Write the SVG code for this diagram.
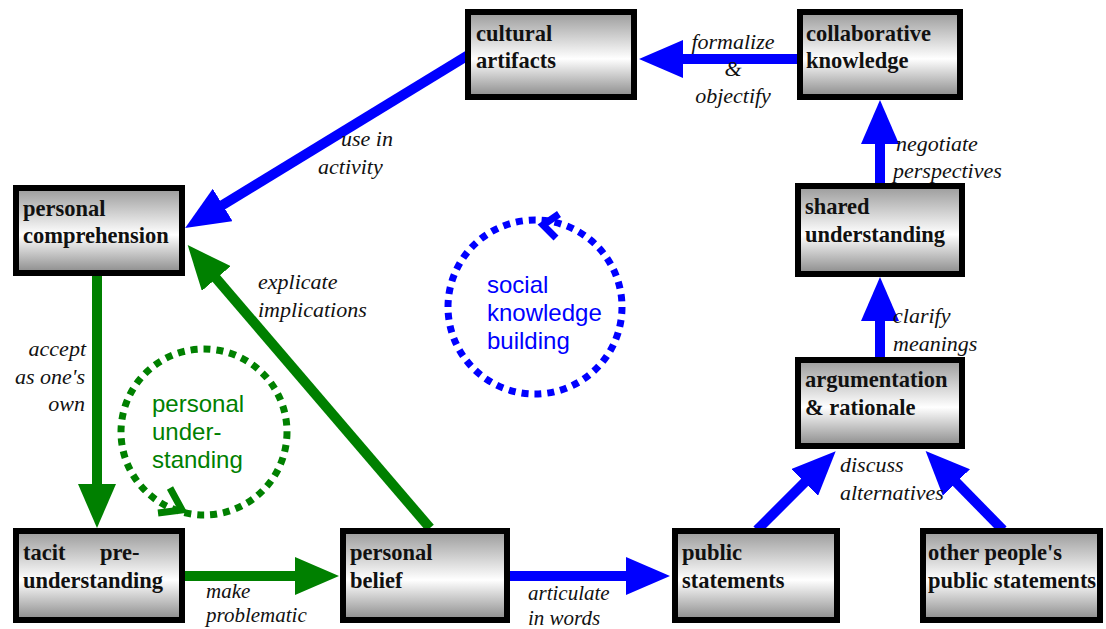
<svg xmlns="http://www.w3.org/2000/svg" width="1106" height="629" viewBox="0 0 1106 629">
<defs>
<linearGradient id="boxg" x1="0" y1="0" x2="0" y2="1">
<stop offset="0" stop-color="#9a9a9a"/>
<stop offset="0.55" stop-color="#ffffff"/>
<stop offset="1" stop-color="#8a8a8a"/>
</linearGradient>
<marker id="hb" viewBox="0 0 44 38" refX="2" refY="19" markerWidth="44" markerHeight="38" markerUnits="userSpaceOnUse" orient="auto">
<path d="M0,0 L44,19 L0,38 z" fill="#0000ff"/>
</marker>
<marker id="hg" viewBox="0 0 44 38" refX="2" refY="19" markerWidth="44" markerHeight="38" markerUnits="userSpaceOnUse" orient="auto">
<path d="M0,0 L44,19 L0,38 z" fill="#008000"/>
</marker>
</defs>
<style>
.box{fill:url(#boxg);stroke:#000;stroke-width:6}
.bt{font-family:"Liberation Serif",serif;font-weight:bold;font-size:22.5px;fill:#111}
.it{font-family:"Liberation Serif",serif;font-style:italic;font-size:22px;fill:#111}
.its{font-family:"Liberation Serif",serif;font-style:italic;font-size:21px;fill:#111}
.b{stroke:#0000ff;stroke-width:10;fill:none}
.g{stroke:#008000;stroke-width:10;fill:none}
.ct{font-family:"Liberation Sans",Arial,sans-serif;font-size:24px}
</style>
<rect width="1106" height="629" fill="#fff"/>

<g id="connectors">
<line class="b" x1="797" y1="59" x2="681" y2="59" marker-end="url(#hb)"/>
<line class="b" x1="470" y1="54" x2="221" y2="206" marker-end="url(#hb)"/>
<line class="b" x1="880" y1="183" x2="880" y2="142" marker-end="url(#hb)"/>
<line class="b" x1="880" y1="357" x2="880" y2="319" marker-end="url(#hb)"/>
<line class="b" x1="757" y1="530" x2="806" y2="481" marker-end="url(#hb)"/>
<line class="b" x1="1003" y1="530" x2="955" y2="481" marker-end="url(#hb)"/>
<line class="b" x1="510" y1="576" x2="628" y2="576" marker-end="url(#hb)"/>
<line class="g" x1="97" y1="276" x2="97" y2="486" marker-end="url(#hg)"/>
<line class="g" x1="185" y1="576" x2="297" y2="576" marker-end="url(#hg)"/>
<line class="g" x1="430" y1="528" x2="215" y2="277" marker-end="url(#hg)"/>
</g>

<g id="cycle-social">
<circle cx="535" cy="307" r="87" fill="none" stroke="#0000ff" stroke-width="7" stroke-dasharray="7 6"/>
<polyline points="559,214 543,225 556,238" fill="none" stroke="#0000ff" stroke-width="7"/>
<text class="ct" fill="#0000ff" x="487" y="293">social</text>
<text class="ct" fill="#0000ff" x="487" y="321">knowledge</text>
<text class="ct" fill="#0000ff" x="487" y="349">building</text>
</g>

<g id="cycle-personal">
<circle cx="204" cy="432" r="83" fill="none" stroke="#008000" stroke-width="7" stroke-dasharray="7 6"/>
<polyline points="170,488 182,510 158,513" fill="none" stroke="#008000" stroke-width="7"/>
<text class="ct" fill="#008000" x="152" y="412">personal</text>
<text class="ct" fill="#008000" x="152" y="440">under-</text>
<text class="ct" fill="#008000" x="152" y="468">standing</text>
</g>

<g id="cultural-artifacts">
<rect class="box" x="468" y="12" width="166" height="85"/>
<text class="bt" x="476" y="41">cultural</text>
<text class="bt" x="476" y="68">artifacts</text>
</g>
<g id="collaborative-knowledge">
<rect class="box" x="800" y="12" width="160" height="85"/>
<text class="bt" x="806" y="41">collaborative</text>
<text class="bt" x="806" y="68">knowledge</text>
</g>
<g id="personal-comprehension">
<rect class="box" x="16" y="188" width="166" height="85"/>
<text class="bt" x="23" y="216">personal</text>
<text class="bt" x="23" y="243">comprehension</text>
</g>
<g id="shared-understanding">
<rect class="box" x="798" y="186" width="164" height="88"/>
<text class="bt" x="805" y="214">shared</text>
<text class="bt" x="805" y="242">understanding</text>
</g>
<g id="argumentation">
<rect class="box" x="798" y="360" width="164" height="86"/>
<text class="bt" x="805" y="387">argumentation</text>
<text class="bt" x="805" y="415">&amp; rationale</text>
</g>
<g id="tacit-preunderstanding">
<rect class="box" x="16" y="531" width="166" height="89"/>
<text class="bt" x="23" y="560">tacit</text>
<text class="bt" x="100" y="560">pre-</text>
<text class="bt" x="23" y="588">understanding</text>
</g>
<g id="personal-belief">
<rect class="box" x="343" y="531" width="164" height="89"/>
<text class="bt" x="350" y="560">personal</text>
<text class="bt" x="350" y="588">belief</text>
</g>
<g id="public-statements">
<rect class="box" x="675" y="531" width="162" height="89"/>
<text class="bt" x="682" y="560">public</text>
<text class="bt" x="682" y="588">statements</text>
</g>
<g id="other-public-statements">
<rect class="box" x="923" y="531" width="177" height="89"/>
<text class="bt" x="928" y="560">other people's</text>
<text class="bt" x="928" y="588">public statements</text>
</g>

<g id="labels">
<text class="it" x="733" y="49" text-anchor="middle">formalize</text>
<text class="it" x="733" y="76" text-anchor="middle">&amp;</text>
<text class="it" x="733" y="103" text-anchor="middle">objectify</text>
<text class="it" x="341" y="146">use in</text>
<text class="it" x="318" y="174">activity</text>
<text class="it" x="896" y="151">negotiate</text>
<text class="it" x="893" y="178">perspectives</text>
<text class="it" x="893" y="323">clarify</text>
<text class="it" x="893" y="351">meanings</text>
<text class="it" x="840" y="472">discuss</text>
<text class="it" x="840" y="500">alternatives</text>
<text class="it" x="258" y="289">explicate</text>
<text class="it" x="258" y="317">implications</text>
<text class="it" x="86" y="356" text-anchor="end">accept</text>
<text class="it" x="85" y="384" text-anchor="end">as one's</text>
<text class="it" x="85" y="411" text-anchor="end">own</text>
<text class="its" x="206" y="598">make</text>
<text class="its" x="206" y="622">problematic</text>
<text class="its" x="528" y="600">articulate</text>
<text class="its" x="528" y="625">in words</text>
</g>
</svg>
